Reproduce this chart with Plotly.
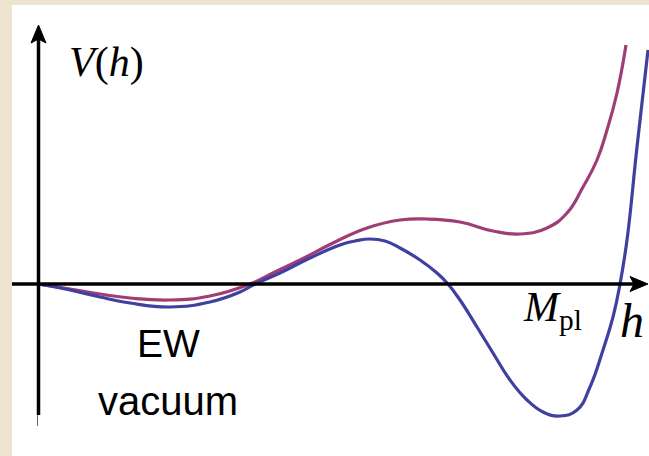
import plotly.graph_objects as go

# Field value h (arbitrary units) and potential V(h) for the two potentials
h_blue = [0.00, 0.32, 0.62, 0.92, 1.32, 1.72, 2.02, 2.17, 2.42, 2.72, 3.02, 3.17, 3.32,
          3.47, 3.62, 3.82, 3.99, 4.10, 4.22, 4.39, 4.55, 4.72, 4.89, 5.05, 5.22, 5.39,
          5.52, 5.65, 5.75, 5.82, 5.89, 5.99, 6.10]
v_blue = [0.00, -0.06, -0.13, -0.19, -0.23, -0.18, -0.08, 0.00, 0.11, 0.26, 0.39, 0.43, 0.45,
          0.43, 0.36, 0.24, 0.11, 0.00, -0.16, -0.43, -0.69, -0.96, -1.16, -1.28, -1.32, -1.26,
          -1.03, -0.66, -0.33, 0.00, 0.44, 1.37, 2.34]

h_purple = [0.00, 0.32, 0.62, 0.92, 1.32, 1.72, 2.12, 2.37, 2.62, 2.95, 3.29, 3.62,
            3.89, 4.22, 4.55, 4.82, 5.09, 5.29, 5.45, 5.59, 5.69, 5.79, 5.88]
v_purple = [0.00, -0.05, -0.10, -0.14, -0.16, -0.12, 0.00, 0.12, 0.24, 0.41, 0.56, 0.64,
            0.65, 0.62, 0.53, 0.50, 0.56, 0.71, 0.97, 1.24, 1.54, 1.91, 2.39]

BLUE = "#4040a0"
PURPLE = "#a03c76"
PARCHMENT = "#ede3cf"

W, H = 649, 456
X0, Y0, S = 38, 284, 100.0  # origin location and scale (pixels per unit)


def px(x, y):
    """Convert a pixel location to data coordinates."""
    return (x - X0) / S, (Y0 - y) / S


fig = go.Figure()

fig.add_trace(go.Scatter(x=h_purple, y=v_purple, mode="lines", line_shape="spline",
                         line=dict(color=PURPLE, width=3.2, smoothing=1.3), hoverinfo="skip"))
fig.add_trace(go.Scatter(x=h_blue, y=v_blue, mode="lines", line_shape="spline",
                         line=dict(color=BLUE, width=3.2, smoothing=1.3), hoverinfo="skip"))

shapes = []
# white panel over parchment background
ax0, ay0 = px(12, 5)
ax1, ay1 = px(W + 2, H + 2)
shapes.append(dict(type="rect", x0=ax0, y0=ay0, x1=ax1, y1=ay1, layer="below",
                   line=dict(width=0), fillcolor="white"))

# vertical axis
vx, vb = px(38.5, 415)
_, vt = px(38.5, 38)
shapes.append(dict(type="line", x0=vx, x1=vx, y0=vb, y1=vt, line=dict(color="black", width=3.5)))
tx, tb = px(37.5, 415)
_, tt = px(37.5, 426)
shapes.append(dict(type="line", x0=tx, x1=tx, y0=tb, y1=tt, line=dict(color="#666", width=1)))


def path(points):
    pts = [px(x, y) for x, y in points]
    return "M " + " L ".join(f"{a:.4f},{b:.4f}" for a, b in pts) + " Z"


shapes.append(dict(type="path", path=path([(38.5, 25), (46, 43), (38.5, 39), (31, 43)]),
                   fillcolor="black", line=dict(color="black", width=1)))

# horizontal axis
hl, hy = px(12, 284)
hr, _ = px(636, 284)
shapes.append(dict(type="line", x0=hl, x1=hr, y0=hy, y1=hy, line=dict(color="black", width=3.5)))
shapes.append(dict(type="path", path=path([(648, 284), (630, 276.5), (634, 284), (630, 291.5)]),
                   fillcolor="black", line=dict(color="black", width=1)))

annotations = []


def label(x, y, text, size, family, color="black"):
    ax, ay = px(x, y)
    annotations.append(dict(x=ax, y=ay, text=text, showarrow=False, xanchor="center",
                            yanchor="middle", font=dict(size=size, family=family, color=color)))


SERIF = "Liberation Serif"
SANS = "Liberation Sans"
label(106, 62, "<i>V</i>(<i>h</i>)", 42, SERIF)
label(632, 320, "<i>h</i>", 48, SERIF)
label(552, 310, "<i>M</i><sub>pl</sub>", 42, SERIF)
label(168, 343, "EW", 39, SANS)
label(168, 401, "vacuum", 40, SANS)

xr0, yr0 = px(0, 0)
xr1, yr1 = px(W, H)
fig.update_layout(
    width=W, height=H, margin=dict(l=0, r=0, t=0, b=0),
    paper_bgcolor=PARCHMENT, plot_bgcolor="rgba(0,0,0,0)",
    showlegend=False, shapes=shapes, annotations=annotations,
    xaxis=dict(range=[xr0, xr1], visible=False, fixedrange=True),
    yaxis=dict(range=[yr1, yr0], visible=False, fixedrange=True),
)

fig.write_html("out.html", config={"displayModeBar": False})
